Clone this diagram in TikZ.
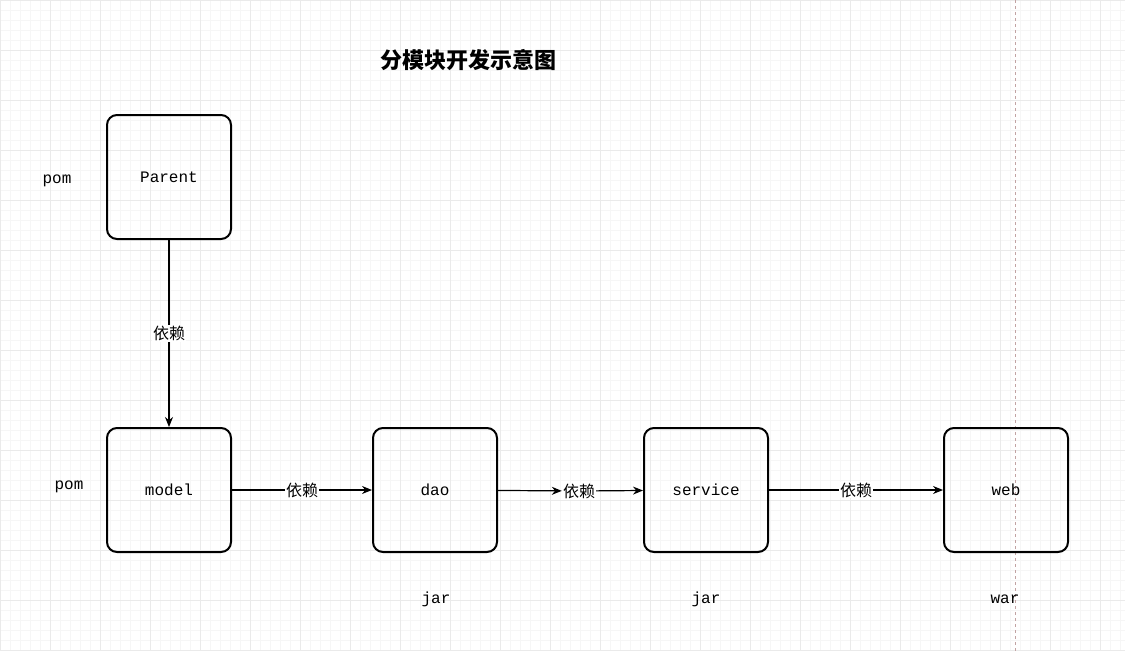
\documentclass[tikz,border=0pt]{standalone}
\usepackage{fontspec}
\setmonofont{Liberation Mono}
\newfontfamily\cjk{Noto Sans CJK SC}
\usetikzlibrary{arrows.meta}
\definecolor{gridminor}{RGB}{246,246,246}
\definecolor{gridmajor}{RGB}{234,234,234}
\tikzset{
  modbox/.style = {draw, line width=2pt, rounded corners=10pt,
                   minimum width=124pt, minimum height=124pt, font=\ttfamily\fontsize{16}{19}\selectfont},
  pkglabel/.style = {font=\ttfamily\fontsize{16}{19}\selectfont},
  deplabel/.style = {fill=white, inner sep=1pt, font=\cjk\fontsize{16}{19}\selectfont},
  dep/.style = {-{Stealth[length=10pt,width=8pt]}, line width=1.2pt}
}
\begin{document}
\begin{tikzpicture}[x=1pt,y=-1pt]
\useasboundingbox (0,0) rectangle (1125,651);
% --- background grid ---
\foreach \x in {0,10,...,1120} \draw[gridminor, line width=0.6pt] (\x,0) -- (\x,651);
\foreach \y in {0,10,...,650} \draw[gridminor, line width=0.6pt] (0,\y) -- (1125,\y);
\foreach \x in {0,50,...,1100} \draw[gridmajor, line width=0.8pt] (\x,0) -- (\x,651);
\foreach \y in {0,50,...,650} \draw[gridmajor, line width=0.8pt] (0,\y) -- (1125,\y);
\draw[dashed, draw=red!20!gray!60, line width=0.8pt] (1015,0) -- (1015,651);

% --- title ---
\node[font=\cjk\bfseries\fontsize{22}{26}\selectfont] (title) at (468,60) {分模块开发示意图};

% --- modules ---
\node[modbox] (parent) at (169,177) {Parent};
\node[modbox] (model) at (169,490) {model};
\node[modbox] (dao) at (435,490) {dao};
\node[modbox] (service) at (706,490) {service};
\node[modbox] (web) at (1006,490) {web};

% --- packaging ---
\node[pkglabel] (ppom) at (57,181) {pom};
\node[pkglabel] (mpom) at (69,487) {pom};
\node[pkglabel] (djar) at (436,599) {jar};
\node[pkglabel] (sjar) at (706,599) {jar};
\node[pkglabel] (wwar) at (1005,599) {war};

% --- dependencies ---
\draw[dep] (parent) -- node[deplabel] {依赖} (model);
\draw[dep] (model) -- node[deplabel] {依赖} (dao);
\node[deplabel] (dslabel) at (579,491) {依赖};
\draw[dep] (dao) -- (dslabel);
\draw[dep] (dslabel) -- (service);
\draw[dep] (service) -- node[deplabel] {依赖} (web);
\end{tikzpicture}
\end{document}
